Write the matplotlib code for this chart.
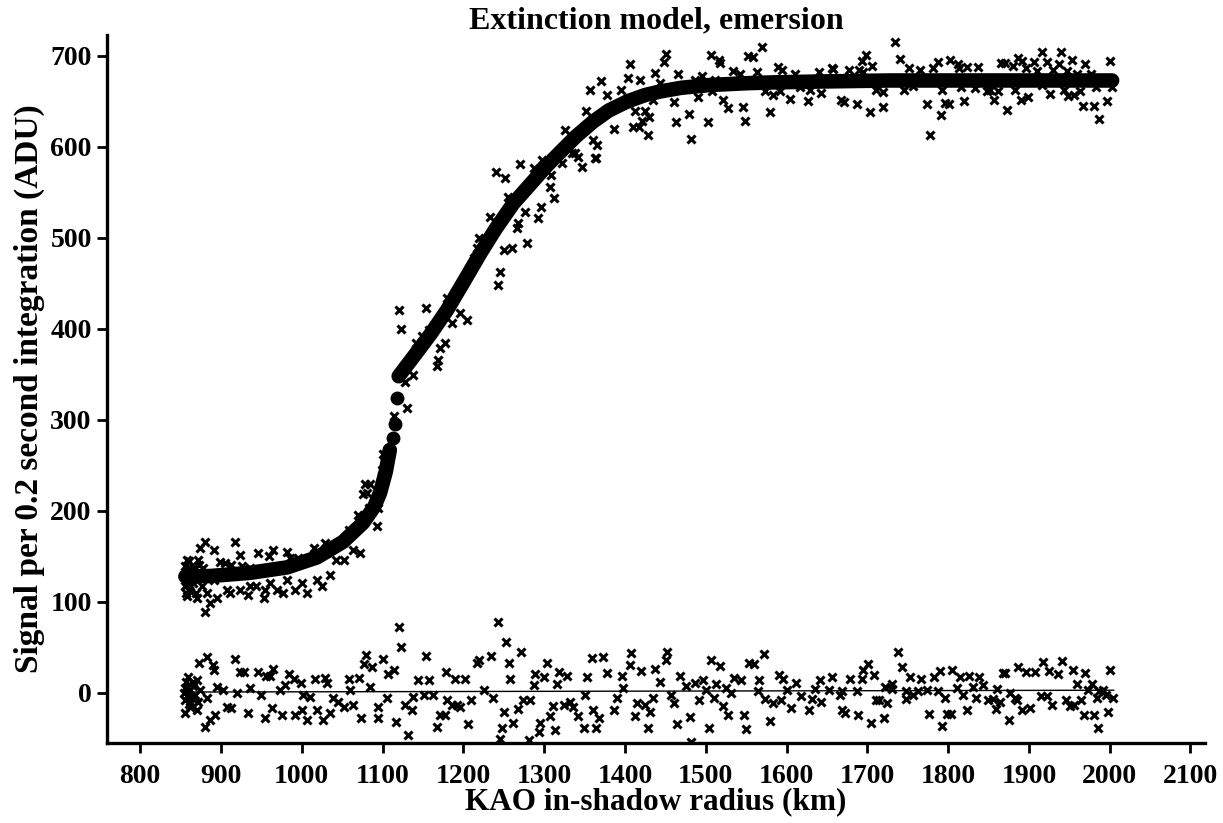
import matplotlib
matplotlib.use("Agg")
import matplotlib.pyplot as plt

plt.rcParams["font.family"] = ["Liberation Serif", "DejaVu Serif"]
plt.rcParams["font.weight"] = "bold"

# ── measured signal (x = radius km, y = ADU) ───────────────────────────────
data_x = [
    855, 856, 856, 857, 858, 859, 860, 861, 863, 865, 867, 869, 871, 873,
    880, 874, 891, 918, 872, 858, 862, 878, 899, 905, 913, 924, 926, 936,
    946, 959, 965, 982, 986, 996, 1015, 1029, 1031, 1043, 1052, 1064, 1072, 1062,
    858, 870, 883, 887, 880, 895, 907, 911, 934, 936, 953, 955, 969, 977,
    982, 992, 1000, 1006, 1019, 1025, 1035, 862, 876, 864, 891, 924, 944, 961,
    1078, 1085, 1076, 1095, 1070, 1093, 1058, 1101, 1107, 1099, 1083, 1081,
    1120, 1123, 1154, 1130, 1114, 1128, 1138, 1142, 1149, 1157, 1167, 1169,
    1171, 1177, 1180, 1190, 1186, 1196, 1204, 1200, 1213, 1217, 1220, 1229,
    1233, 1243, 1246, 1250, 1260, 1266, 1268, 1279, 1257, 1255, 1241, 1252,
    1270, 1287, 1298, 1276, 1293, 1296, 1307, 1312, 1309, 1322, 1342, 1347,
    1364, 1334,
    1357, 1371, 1378, 1395, 1406, 1404, 1419, 1437, 1448, 1451, 1444, 1466,
    1487, 1495, 1506, 1517, 1518, 1534, 1543, 1512, 1552, 1558, 1570, 1564,
    1589, 1595, 1611, 1640, 1656, 1658, 1677, 1690, 1693, 1699, 1706, 1695,
    1352, 1386, 1361, 1366, 1338, 1363, 1326, 1413, 1425, 1430, 1421, 1410,
    1417, 1428, 1435, 1461, 1479, 1463, 1482, 1490, 1503, 1508, 1521, 1527,
    1546, 1549, 1574, 1579, 1583, 1592, 1604, 1617, 1627, 1629, 1643, 1668,
    1671, 1687, 1703, 1711, 1720, 1719,
    1734, 1741, 1752, 1765, 1781, 1788, 1802, 1812, 1814, 1824, 1837, 1866,
    1871, 1880, 1886, 1892, 1897, 1906, 1910, 1916, 1923, 1930, 1937, 1940,
    1947, 1953, 1959, 1970, 1977, 2000,
    1745, 1774, 1778, 1791, 1796, 1801, 1793, 1820, 1833, 1848, 1852, 1857,
    1862, 1873, 1883, 1890, 1899, 1926, 1943, 1949, 1956, 1963, 1967, 1980,
    1987, 1997, 2003, 1983, 1916, 1816, 1757,
]
data_y = [
    128, 118, 140, 110, 132, 124, 145, 113, 130, 121, 137, 110, 127, 141,
    166, 159, 157, 166, 146, 146, 137, 137, 144, 143, 141, 152, 139, 137,
    154, 150, 157, 155, 148, 148, 159, 165, 155, 146, 146, 157, 154, 177,
    106, 104, 110, 99, 89, 104, 113, 110, 108, 117, 104, 113, 113, 110,
    124, 113, 121, 110, 124, 117, 130, 117, 117, 124, 124, 113, 117, 121,
    230, 230, 219, 203, 196, 183, 179, 263, 252, 245, 203, 220,
    421, 400, 423, 313, 304, 342, 349, 384, 392, 399, 359, 366,
    379, 384, 434, 439, 406, 417, 410, 452, 478, 489, 500, 494,
    523, 448, 463, 487, 489, 511, 516, 494, 533, 545, 572, 566,
    581, 577, 586, 529, 522, 534, 556, 544, 569, 582, 589, 578,
    588, 593,
    663, 672, 657, 662, 691, 676, 674, 681, 693, 702, 670, 680,
    674, 678, 701, 696, 692, 683, 680, 674, 700, 699, 710, 682,
    688, 684, 680, 682, 687, 686, 685, 685, 694, 701, 689, 682,
    639, 620, 608, 602, 593, 588, 619, 639, 640, 633, 629, 622,
    622, 613, 652, 649, 636, 627, 609, 655, 627, 661, 652, 643,
    644, 628, 661, 638, 657, 661, 653, 666, 651, 663, 659, 652,
    649, 647, 638, 662, 660, 644,
    715, 697, 687, 685, 687, 693, 695, 691, 687, 688, 688, 692,
    692, 689, 698, 694, 687, 693, 683, 704, 693, 685, 691, 704,
    683, 695, 680, 691, 680, 694,
    663, 647, 613, 635, 648, 647, 663, 651, 665, 661, 663, 652,
    661, 641, 663, 652, 655, 658, 662, 656, 657, 661, 645, 645,
    631, 651, 666, 666, 668, 666, 667,
]

# ── residuals (data - model) ───────────────────────────────────────────────
resid_x = [
    873, 883, 890, 891, 918, 924, 929, 946, 956, 961, 965, 984, 991, 999,
    1016, 1029, 1031, 1059, 1071, 1080, 1077, 1087, 1100, 1114, 1107, 1121,
    1123, 1154, 1144, 1157, 1179, 1190, 1202, 1217, 1220, 1234, 1243, 1253,
    1256, 1258, 1272, 1289, 1300, 1303, 1319, 1328, 1316, 1353, 1359, 1373,
    1378, 1396, 1408, 1406, 1420, 1437, 1451, 1452, 1444,
    856, 862, 870, 880, 887, 893, 907, 913, 934, 955, 963, 975, 992, 1000,
    1006, 1019, 1026, 1035, 1052, 1064, 1073, 1094, 1095, 1117, 1131, 1128,
    1137, 1167, 1171, 1177, 1186, 1196, 1206, 1210, 1246, 1248, 1250, 1261,
    1268, 1281, 1283, 1295, 1294, 1307, 1314, 1311, 1324, 1336, 1342, 1349,
    1361, 1364, 1368, 1386, 1413, 1415, 1425, 1429, 1431, 1435,
    854, 858, 862, 866, 874, 883, 895, 903, 920, 936, 949, 973, 979, 1002,
    1010, 1039, 1045, 1060, 1085, 1105, 1138, 1151, 1163, 1180, 1192, 1225,
    1237, 1274, 1287, 1332, 1351, 1390, 1398,
    855, 856, 857, 858, 859, 860, 862, 864, 866, 868, 870, 872,
    1468, 1476, 1487, 1497, 1507, 1518, 1513, 1525, 1535, 1544, 1553, 1560,
    1566, 1572, 1591, 1596, 1612, 1641, 1656, 1679, 1693, 1695, 1701, 1708,
    1730, 1738, 1743, 1753, 1766, 1783, 1790, 1805, 1815, 1826, 1838, 1868,
    1871, 1887, 1896, 1907, 1918, 1925, 1941, 1936, 1954, 1970, 1960, 1978,
    2000,
    1461, 1464, 1481, 1482, 1492, 1504, 1510, 1522, 1528, 1547, 1550, 1574,
    1580, 1583, 1593, 1606, 1618, 1628, 1631, 1643, 1666, 1669, 1673, 1689,
    1704, 1711, 1715, 1724, 1721, 1748, 1756, 1776, 1792, 1796, 1799, 1803,
    1823, 1818, 1835, 1850, 1856, 1859, 1864, 1875, 1883, 1885, 1891, 1901,
    1915, 1923, 1929, 1946, 1951, 1956, 1964, 1968, 1981, 1985, 1984, 1992,
    1998, 2004, 1995,
    1457, 1500, 1531, 1565, 1600, 1635, 1652, 1669, 1687, 1722, 1730, 1748,
    1763, 1774, 1787, 1811, 1831, 1843, 1860, 1877, 1973, 1987,
]
resid_y = [
    33, 39, 31, 25, 37, 23, 23, 23, 19, 19, 26, 21, 15, 11,
    15, 16, 11, 15, 16, 42, 32, 29, 37, 25, 21, 73,
    50, 41, 14, 14, 23, 15, 15, 33, 36, 41, 78, 56,
    33, 15, 45, 21, 17, 33, 23, 19, 10, 18, 38, 39,
    22, 19, 44, 31, 24, 26, 36, 45, 12,
    -22, -15, -19, -37, -30, -24, -15, -17, -22, -28, -17, -24, -24, -19,
    -30, -19, -30, -22, -15, -13, -28, -28, -15, -32, -46, -13,
    -19, -37, -24, -24, -13, -15, -34, -8, -51, -39, -21, -33,
    -18, -52, -8, -33, -43, -25, -41, -14, -13, -15, -25, -38,
    -19, -38, -27, -19, -25, -11, -13, -39, -21, -5,
    0, 7, -4, 12, 3, -6, 7, 3, 0, 5, -2, 3, 9, -2,
    -4, -6, -10, 3, 7, -6, -4, -2, -2, -8, -13, 3,
    -5, -8, 9, -10, -2, -6, 5,
    5, -8, 12, -3, 18, -12, 3, -6, 8, -2, 14, -10,
    19, 8, 11, 14, 36, 30, 10, 5, 16, 14, 33, 32,
    14, 43, 20, 15, 11, 14, 18, 15, 15, 25, 32, 20,
    10, 45, 28, 17, 15, 17, 24, 25, 17, 19, 18, 22,
    22, 28, 23, 23, 34, 24, 35, 21, 25, 22, 10, 10,
    25,
    -11, -34, -26, -54, -8, -38, -5, -14, -24, -24, -40, -7,
    -31, -11, -8, -16, -3, -19, -7, -10, -2, -19, -22, -24,
    -33, -8, -8, -11, -27, -7, -2, -23, -36, -6, -23, -23,
    -19, -2, -6, -8, -7, -18, -10, -30, -6, -8, -19, -16,
    -3, -3, -13, -8, -14, -13, -8, -24, -24, -39, -5, 3,
    -21, -5, -2,
    -2, 3, 0, 2, 3, 4, 3, 2, 2, 6, 4, 2,
    2, 3, 2, 5, 7, 9, 4, 0, 3, 2,
]

# ── fitted extinction model ────────────────────────────────────────────────
model_lo_x = [856, 887, 936, 982, 1019, 1051, 1076, 1090, 1097, 1104, 1109]
model_lo_y = [128, 128.5, 132, 138, 149, 166, 187, 205, 220, 243, 267]
model_step_x = [1113, 1116, 1118]
model_step_y = [280, 296, 324]
model_hi_x = [1120, 1138, 1160, 1180, 1200, 1221, 1240, 1262, 1285, 1304,
              1323, 1340, 1361, 1380, 1403, 1425, 1444, 1470, 1505, 1550,
              1588, 1650, 1728, 1850, 2003]
model_hi_y = [348, 369, 395, 421, 451, 483, 510, 538, 561, 580,
              597, 612, 628, 640, 650, 657, 661, 665, 668, 670,
              671, 672, 673, 673, 673]
zero_x = [856, 2005]
zero_y = [1, 3]

fig = plt.figure(figsize=(12.23, 8.23), dpi=100)
ax = fig.add_axes([0.0875, 0.0972, 0.8978, 0.8603])

mk = dict(marker="x", linestyle="none", color="black", markersize=6, markeredgewidth=2.2)
ax.plot(data_x, data_y, **mk)
ax.plot(resid_x, resid_y, **mk)

ax.plot(model_lo_x, model_lo_y, "-", color="black", lw=10.5, solid_capstyle="round")
ax.plot(model_hi_x, model_hi_y, "-", color="black", lw=10.5, solid_capstyle="round")
ax.plot(model_step_x, model_step_y, "o", color="black", markersize=9)
ax.plot(zero_x, zero_y, "-", color="black", lw=1.0)

ax.set_xlim(759, 2118)
ax.set_ylim(-55, 723)
ax.set_xticks(range(800, 2101, 100))
ax.set_yticks(range(0, 701, 100))
for s in ("top", "right"):
    ax.spines[s].set_visible(False)
for s in ("left", "bottom"):
    ax.spines[s].set_linewidth(2.4)
ax.tick_params(direction="out", length=7, width=2, labelsize=20)
ax.tick_params(axis="x", pad=8)
ax.tick_params(axis="y", pad=4)

ax.set_xlabel("KAO in-shadow radius (km)", fontsize=22.5, fontweight="bold", labelpad=-1)
ax.set_ylabel("Signal per 0.2 second integration (ADU)", fontsize=24, fontweight="bold", labelpad=4)
ax.set_title("Extinction model, emersion", fontsize=23, fontweight="bold", pad=4)

fig.savefig("out.png", dpi=100)
